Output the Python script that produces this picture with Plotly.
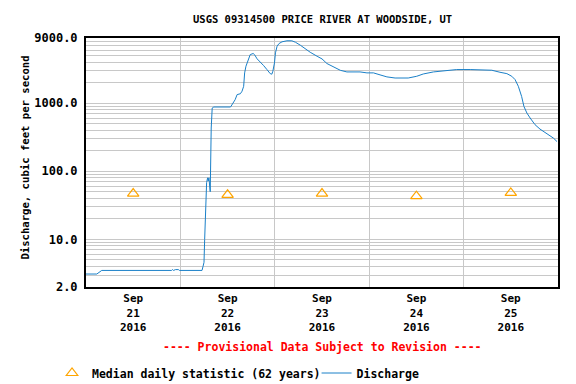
import plotly.graph_objects as go

# ---- data ----
discharge_times = [
    "2016-09-21 00:00", "2016-09-21 02:45", "2016-09-21 04:00", "2016-09-21 21:45",
    "2016-09-21 22:00", "2016-09-21 22:15", "2016-09-21 22:45", "2016-09-21 23:30",
    "2016-09-21 23:45", "2016-09-22 05:30", "2016-09-22 05:45", "2016-09-22 06:00",
    "2016-09-22 06:10", "2016-09-22 06:25", "2016-09-22 06:40", "2016-09-22 06:55",
    "2016-09-22 07:05", "2016-09-22 07:15", "2016-09-22 07:25", "2016-09-22 07:35",
    "2016-09-22 07:50", "2016-09-22 08:05", "2016-09-22 08:30", "2016-09-22 12:45",
    "2016-09-22 13:55", "2016-09-22 14:25", "2016-09-22 15:15", "2016-09-22 15:40",
    "2016-09-22 16:05", "2016-09-22 16:20", "2016-09-22 16:40", "2016-09-22 17:20",
    "2016-09-22 17:45", "2016-09-22 18:30", "2016-09-22 18:50", "2016-09-22 19:30",
    "2016-09-22 20:20", "2016-09-22 21:10", "2016-09-22 22:00", "2016-09-22 22:50",
    "2016-09-22 23:15", "2016-09-22 23:30", "2016-09-22 23:55", "2016-09-23 00:10",
    "2016-09-23 00:35", "2016-09-23 01:05", "2016-09-23 01:50", "2016-09-23 03:05",
    "2016-09-23 04:20", "2016-09-23 05:15", "2016-09-23 06:30", "2016-09-23 07:45",
    "2016-09-23 09:00", "2016-09-23 10:45", "2016-09-23 12:00", "2016-09-23 13:15",
    "2016-09-23 14:55", "2016-09-23 16:40", "2016-09-23 18:20", "2016-09-23 21:40",
    "2016-09-23 23:25", "2016-09-24 01:05", "2016-09-24 02:45", "2016-09-24 04:30",
    "2016-09-24 06:35", "2016-09-24 09:55", "2016-09-24 12:05", "2016-09-24 13:45",
    "2016-09-24 16:20", "2016-09-24 19:45", "2016-09-24 22:15", "2016-09-25 01:40",
    "2016-09-25 05:00", "2016-09-25 07:10", "2016-09-25 09:15", "2016-09-25 11:00",
    "2016-09-25 12:15", "2016-09-25 13:05", "2016-09-25 13:55", "2016-09-25 14:45",
    "2016-09-25 15:20", "2016-09-25 16:05", "2016-09-25 16:55", "2016-09-25 18:10",
    "2016-09-25 19:25", "2016-09-25 21:10", "2016-09-25 22:50", "2016-09-25 23:45",
]
discharge_values = [
    3.1, 3.1, 3.5, 3.5,
    3.6, 3.5, 3.6, 3.6,
    3.5, 3.5, 4.0, 4.6,
    10, 34, 68, 80,
    72, 80, 50, 50,
    430, 845, 875, 875,
    1120, 1330, 1370, 1490,
    1760, 2770, 3470, 4600,
    5140, 5330, 5140, 4450,
    4020, 3540, 3100, 2700,
    2650, 2920, 3880, 5450,
    6820, 7470, 7910, 8190,
    8190, 7800, 7050, 6240,
    5560, 4860, 4440, 3800,
    3390, 3020, 2860, 2860,
    2770, 2770, 2590, 2420,
    2330, 2330, 2470, 2670,
    2860, 3030, 3100, 3100,
    3100, 3030, 2830, 2700,
    2470, 2210, 1760, 1250,
    894, 714, 603, 481,
    415, 355, 306, 272,
]

median_dates = ["2016-09-21 12:00", "2016-09-22 12:00", "2016-09-23 12:00",
                "2016-09-24 12:00", "2016-09-25 12:00"]
median_values = [47, 45, 47, 43, 48]

x_tick_vals = median_dates
x_tick_text = ["Sep<br>21<br>2016", "Sep<br>22<br>2016", "Sep<br>23<br>2016",
               "Sep<br>24<br>2016", "Sep<br>25<br>2016"]
y_tick_vals = [2, 10, 100, 1000, 9000]
y_tick_text = ["2.0", "10.0", "100.0", "1000.0", "9000.0"]
y_minor_vals = [m * 10 ** e for e in range(0, 4) for m in range(1, 10)
                if 2 <= m * 10 ** e <= 9000]

title_text = "USGS 09314500 PRICE RIVER AT WOODSIDE, UT"
y_title = "Discharge, cubic feet per second"
provisional_text = "---- Provisional Data Subject to Revision ----"

FONT = "DejaVu Sans Mono"
GRID = "#c8c8c8"

fig = go.Figure()
fig.add_trace(go.Scatter(
    x=median_dates, y=median_values, mode="markers",
    name="Median daily statistic (62 years)", legend="legend",
    marker=dict(symbol="triangle-up-open", size=10, color="#ffa500",
                line=dict(width=1.2, color="#ffa500")),
))
fig.add_trace(go.Scatter(
    x=discharge_times, y=discharge_values, mode="lines", name="Discharge",
    legend="legend2",
    line=dict(color="#1a80c8", width=1),
))

legend_common = dict(orientation="h", xanchor="left", yanchor="middle", y=-0.3454,
                     font=dict(family=FONT, size=11.5, weight="bold"),
                     bgcolor="rgba(0,0,0,0)", borderwidth=0)

fig.update_layout(
    width=568, height=376,
    margin=dict(l=78, r=18, t=30, b=97, autoexpand=False),
    paper_bgcolor="white", plot_bgcolor="white",
    font=dict(family=FONT, size=11.5, color="black", weight="bold"),
    showlegend=True,
    legend=dict(x=-0.072, **legend_common),
    legend2=dict(x=0.4885, **legend_common),
    xaxis=dict(
        type="date", range=["2016-09-21 00:00", "2016-09-26 00:00"],
        tickmode="array", tickvals=x_tick_vals, ticktext=x_tick_text,
        showgrid=False, ticks="", zeroline=False,
        showline=True, linecolor="black", linewidth=2, mirror=True,
        tickfont=dict(family=FONT, size=11, weight="bold"),
        minor=dict(tick0="2016-09-21", dtick=86400000, showgrid=True,
                   gridcolor=GRID, gridwidth=1, ticks=""),
    ),
    yaxis=dict(
        type="log", range=[0.30103, 3.95424],
        tickmode="array", tickvals=y_tick_vals, ticktext=y_tick_text,
        showgrid=True, gridcolor=GRID, gridwidth=1, ticks="",
        ticklabelstandoff=4,
        showline=True, linecolor="black", linewidth=2, mirror=True,
        tickfont=dict(family=FONT, size=12, weight="bold"),
        minor=dict(tickmode="array", tickvals=y_minor_vals, showgrid=True,
                   gridcolor=GRID, gridwidth=1, ticks=""),
    ),
    annotations=[
        dict(text=title_text, xref="paper", yref="paper", x=0.5, y=1.0763,
             xanchor="center", yanchor="middle", showarrow=False,
             font=dict(family=FONT, size=10.5, weight="bold")),
        dict(text=y_title, xref="paper", yref="paper", x=-0.1292, y=0.52,
             xanchor="center", yanchor="middle", textangle=-90, showarrow=False,
             font=dict(family=FONT, size=10.6, weight="bold")),
        dict(text=provisional_text, xref="paper", yref="paper", x=0.5, y=-0.239,
             xanchor="center", yanchor="middle", showarrow=False,
             font=dict(family=FONT, size=11.5, color="red", weight="bold")),
    ],
)

fig.write_html("out.html")
